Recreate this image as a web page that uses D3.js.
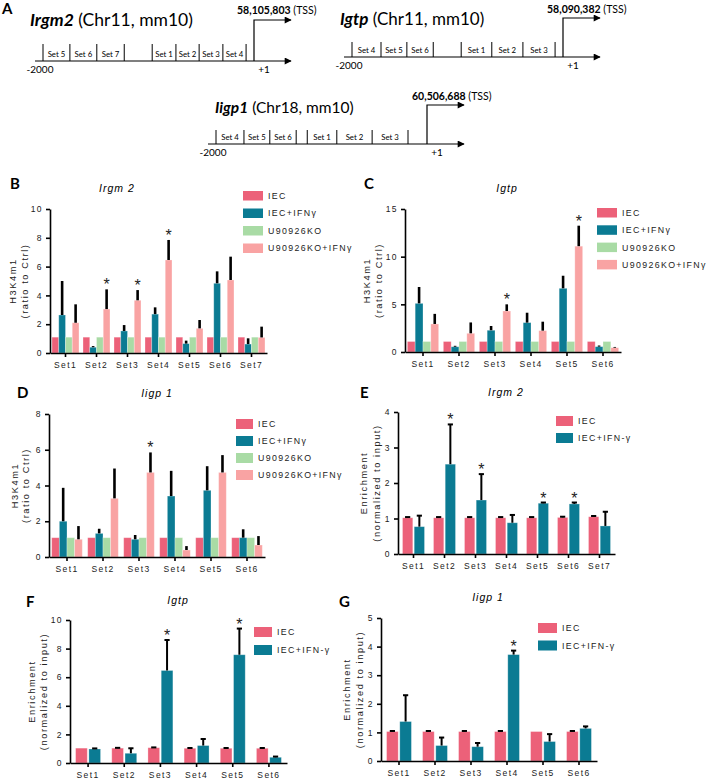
<!DOCTYPE html>
<html><head><meta charset="utf-8">
<script src="https://cdn.jsdelivr.net/npm/d3@7"></script>
<style>body{margin:0;background:#fff} svg{display:block}</style>
</head><body><svg id="c" width="708" height="779"></svg>
<script>
// ---------------- DATA ----------------
// Panel A: promoter maps (positions in bp relative to TSS)
const irgm2Ticks  = [-2000,-1745,-1490,-1230,-965,-740,-520,-295,-75];
const irgm2Labels = ["Set 5","Set 6","Set 7","","Set 1","Set 2","Set 3","Set 4"];
const igtpTicks   = [-2000,-1725,-1480,-1230,-965,-675,-380,-75];
const igtpLabels  = ["Set 4","Set 5","Set 6","","Set 1","Set 2","Set 3"];
const iigp1Ticks  = [-2000,-1735,-1490,-1240,-1135,-855,-520,-180];
const iigp1Labels = ["Set 4","Set 5","Set 6","","Set 1","Set 2","Set 3"];

const sets7 = ["Set1","Set2","Set3","Set4","Set5","Set6","Set7"];
const sets6 = ["Set1","Set2","Set3","Set4","Set5","Set6"];
const seriesH3  = ["IEC","IEC+IFNγ","U90926KO","U90926KO+IFNγ"];
const seriesEnr = ["IEC","IEC+IFN-γ"];

// Panel B: Irgm2 H3K4m1
const bIEC      = [1.1,1.1,1.1,1.1,1.1,1.1,1.1];
const bIFN      = [2.64,0.40,1.53,2.70,0.65,4.84,0.62];
const bIFNsd    = [2.36,0.08,0.41,0.47,0.21,0.83,0.40];
const bKO       = [1.1,1.1,1.1,1.1,1.1,1.1,1.1];
const bKOIFN    = [2.10,3.05,3.66,6.46,1.71,5.07,1.08];
const bKOIFNsd  = [1.28,1.37,0.71,1.39,0.58,1.62,0.75];
const bStars    = ["Set2","Set3","Set4"];
const bTicks    = [0,2,4,6,8,10];

// Panel C: Igtp H3K4m1
const cIEC      = [1.1,1.1,1.1,1.1,1.1,1.1];
const cIFN      = [5.10,0.55,2.28,3.08,6.68,0.56];
const cIFNsd    = [1.72,0.10,0.45,1.04,1.32,0.12];
const cKO       = [1.1,1.1,1.1,1.1,1.1,1.1];
const cKOIFN    = [2.94,1.96,4.30,2.24,11.1,0.45];
const cKOIFNsd  = [1.06,1.14,0.70,0.94,2.15,0.08];
const cStars    = ["Set3","Set5"];
const cTicks    = [0,5,10,15];

// Panel D: Iigp1 H3K4m1
const dIEC      = [1.08,1.08,1.08,1.08,1.08,1.08];
const dIFN      = [2.00,1.32,0.99,3.41,3.73,1.08];
const dIFNsd    = [1.87,0.26,0.24,1.41,1.35,0.47];
const dKO       = [1.08,1.08,1.08,1.08,1.08,1.08];
const dKOIFN    = [0.99,3.28,4.73,0.39,4.73,0.67];
const dKOIFNsd  = [0.74,1.67,1.12,0.22,0.97,0.50];
const dStars    = ["Set3"];
const dTicks    = [0,2,4,6,8];

// Panel E: Irgm2 enrichment
const eIEC      = [1.02,1.02,1.02,1.02,1.02,1.03,1.05];
const eIECsd    = [0.02,0.02,0.02,0.02,0.02,0.02,0.02];
const eIFN      = [0.77,2.53,1.52,0.88,1.43,1.41,0.79];
const eIFNsd    = [0.31,1.12,0.73,0.22,0.02,0.04,0.40];
const eStars    = ["Set2","Set3","Set5","Set6"];
const eTicks    = [0,1,2,3,4];

// Panel F: Igtp enrichment
const fIEC      = [1.04,1.04,1.07,1.03,1.03,1.03];
const fIECsd    = [0.0,0.02,0.02,0.02,0.02,0.02];
const fIFN      = [0.98,0.68,6.47,1.22,7.57,0.40];
const fIFNsd    = [0.04,0.35,2.13,0.46,1.83,0.05];
const fStars    = ["Set3","Set5"];
const fTicks    = [0,2,4,6,8,10];

// Panel G: Iigp1 enrichment
const gIEC      = [1.03,1.03,1.03,1.03,1.03,1.03];
const gIECsd    = [0.02,0.02,0.02,0.02,0.0,0.02];
const gIFN      = [1.38,0.54,0.50,3.72,0.68,1.14];
const gIFNsd    = [0.92,0.28,0.13,0.14,0.26,0.07];
const gStars    = ["Set4"];
const gTicks    = [0,1,2,3,4,5];

// ---------------- STYLE ----------------
const COL = {"IEC":"#ec6179","IEC+IFNγ":"#0b7b93","U90926KO":"#a9dba5","U90926KO+IFNγ":"#f9a3a3","IEC+IFN-γ":"#0b7b93"};
const FONT = "'Liberation Sans', Arial, Helvetica, sans-serif";
const DFONT = "Lato, 'Open Sans', sans-serif";
const svg = d3.select("#c");
svg.append("rect").attr("width",708).attr("height",779).attr("fill","#fff");

svg.append("defs").append("marker")
  .attr("id","arr").attr("viewBox","0 0 10 10").attr("refX",9).attr("refY",5)
  .attr("markerWidth",8).attr("markerHeight",7).attr("markerUnits","userSpaceOnUse")
  .attr("orient","auto")
  .append("path").attr("d","M0,0 L10,5 L0,10 z").attr("fill","#000");

// ---------------- PANEL A ----------------
function gene(c){
  const g = svg.append("g");
  const s = d3.scaleLinear().domain([-2000,0]).range([c.x0, c.x1]);
  g.append("line").attr("x1",s(-2000)-8).attr("x2",s(0)+37).attr("y1",c.y).attr("y2",c.y)
    .attr("stroke","#000").attr("stroke-width",1.2).attr("marker-end","url(#arr)");
  g.selectAll(".tk").data(c.ticks).join("line")
    .attr("x1",d=>s(d)).attr("x2",d=>s(d)).attr("y1",c.y-c.th).attr("y2",c.y)
    .attr("stroke","#000").attr("stroke-width",1);
  g.selectAll(".lb").data(c.labels).join("text")
    .attr("x",(d,i)=>(s(c.ticks[i])+s(c.ticks[i+1]))/2).attr("y",c.y-4)
    .attr("text-anchor","middle").attr("font-family",DFONT).attr("font-size",7.8).text(d=>d);
  g.append("path").attr("d",`M${s(0)},${c.y} V${c.tssTop} H${s(0)+37}`)
    .attr("fill","none").attr("stroke","#000").attr("stroke-width",1.2).attr("marker-end","url(#arr)");
  g.append("text").attr("x",s(-2000)-3).attr("y",c.y+12).attr("text-anchor","middle")
    .attr("font-family",DFONT).attr("font-size",10).text("-2000");
  g.append("text").attr("x",s(0)+10).attr("y",c.y+12).attr("text-anchor","middle")
    .attr("font-family",DFONT).attr("font-size",10).text("+1");
  const t = g.append("text").attr("x",c.tx).attr("y",c.ty).attr("font-family",DFONT).attr("font-size",c.fs);
  t.append("tspan").attr("font-weight","bold").attr("font-style","italic").text(c.name);
  t.append("tspan").text(" "+c.chr);
  const p = g.append("text").attr("x",c.px).attr("y",c.py).attr("font-family",DFONT).attr("font-size",10.5);
  p.append("tspan").attr("font-weight","bold").text(c.pos);
  p.append("tspan").text(" (TSS)");
}
gene({name:"Irgm2",chr:"(Chr11, mm10)",pos:"58,105,803",ticks:irgm2Ticks,labels:irgm2Labels,
  x0:43,x1:254,y:61,th:17,tssTop:20,tx:30,ty:26,px:237,py:14,fs:17.5});
gene({name:"Igtp",chr:"(Chr11, mm10)",pos:"58,090,382",ticks:igtpTicks,labels:igtpLabels,
  x0:352,x1:563,y:57,th:15,tssTop:18,tx:340,ty:25,px:547,py:13,fs:17});
gene({name:"Iigp1",chr:"(Chr18, mm10)",pos:"60,506,688",ticks:iigp1Ticks,labels:iigp1Labels,
  x0:216,x1:427,y:144,th:14,tssTop:105,tx:215,ty:113,px:412,py:100,fs:15.5});

function letter(t,x,y){
  svg.append("text").attr("x",x).attr("y",y).attr("font-family",DFONT).attr("font-weight","bold")
    .attr("font-size",15).text(t);
}
letter("A",2,14);

// ---------------- BAR PANELS ----------------
function panel(c){
  const g = svg.append("g");
  const x0 = d3.scaleBand().domain(c.cats).range([c.left,c.right]).paddingInner(c.pad).paddingOuter(c.pad/2);
  const names = c.series.map(s=>s.name);
  const x1 = d3.scaleBand().domain(names).range([0,x0.bandwidth()]).paddingInner(c.ipad);
  const y = d3.scaleLinear().domain([0,c.ymax]).range([c.bottom,c.top]);
  const rows = [];
  c.series.forEach(s=>s.values.forEach((v,i)=>rows.push({s:s.name,cat:c.cats[i],v,sd:s.sd?s.sd[i]:0,star:s.stars?s.stars.includes(c.cats[i]):false})));
  g.selectAll(".bar").data(rows).join("rect")
    .attr("x",d=>x0(d.cat)+x1(d.s)).attr("width",x1.bandwidth())
    .attr("y",d=>y(d.v)).attr("height",d=>y(0)-y(d.v))
    .attr("fill",d=>COL[d.s]).attr("stroke","#fff").attr("stroke-opacity",0.35).attr("stroke-width",0.8);
  const er = rows.filter(d=>d.sd>0);
  const cx = d=>x0(d.cat)+x1(d.s)+x1.bandwidth()/2;
  g.selectAll(".err").data(er).join("line")
    .attr("x1",cx).attr("x2",cx).attr("y1",d=>y(d.v)).attr("y2",d=>y(d.v+d.sd))
    .attr("stroke","#000").attr("stroke-width",c.caps?2:2.6);
  if(c.caps){
    g.selectAll(".cap").data(er).join("line")
      .attr("x1",d=>cx(d)-2.6).attr("x2",d=>cx(d)+2.6).attr("y1",d=>y(d.v+d.sd)).attr("y2",d=>y(d.v+d.sd))
      .attr("stroke","#000").attr("stroke-width",2);
  }
  g.selectAll(".star").data(rows.filter(d=>d.star)).join("text")
    .attr("x",cx).attr("y",d=>y(d.v+d.sd)+1).attr("text-anchor","middle")
    .attr("font-family",FONT).attr("font-size",16).attr("fill","#222").text("*");
  // axes
  const ya = g.append("g").attr("transform",`translate(${c.left},0)`)
    .call(d3.axisLeft(y).tickValues(c.yticks).tickSize(4).tickSizeOuter(0).tickPadding(3).tickFormat(d3.format("d")));
  const xa = g.append("g").attr("transform",`translate(0,${c.bottom})`)
    .call(d3.axisBottom(x0).tickSize(4).tickSizeOuter(0).tickPadding(5));
  [ya,xa].forEach(a=>{
    a.select(".domain").attr("stroke-width",1.6);
    a.selectAll(".tick line").attr("stroke-width",1.6);
    a.selectAll("text").attr("font-family",FONT).attr("font-size",8.5).attr("fill","#222")
      .style("letter-spacing","1.4px");
  });
  // title
  g.append("text").attr("x",c.title[1]).attr("y",c.title[2]).attr("text-anchor","middle")
    .attr("font-family",FONT).attr("font-style","italic").attr("font-size",10.5)
    .style("letter-spacing","1px").text(c.title[0]);
  // y label
  const cy = (c.top+c.bottom)/2;
  c.ylab.forEach((l,i)=>{
    g.append("text").attr("transform",`translate(${c.ylabX[i]},${cy}) rotate(-90)`)
      .attr("text-anchor","middle").attr("font-family",FONT).attr("font-size",9.2).attr("fill","#222")
      .style("letter-spacing","1.6px").text(l);
  });
  // legend
  const lg = g.append("g");
  c.series.forEach((s,i)=>{
    lg.append("rect").attr("x",c.leg.x).attr("y",c.leg.y+i*c.leg.dy).attr("width",c.leg.w).attr("height",c.leg.h)
      .attr("fill",COL[s.name]);
    lg.append("text").attr("x",c.leg.x+c.leg.w+5).attr("y",c.leg.y+i*c.leg.dy+c.leg.h/2+3.2)
      .attr("font-family",FONT).attr("font-size",8.8).attr("fill","#222")
      .style("letter-spacing","1.35px").text(s.name);
  });
  letter(c.letter[0],c.letter[1],c.letter[2]);
}

const h3lab = ["H3K4m1","(ratio to Ctrl)"];
const enlab = ["Enrichment","(normalized to input)"];

panel({cats:sets7,left:50,right:267,bottom:353,top:209,ymax:10,yticks:bTicks,pad:0.13,ipad:0,
  series:[{name:seriesH3[0],values:bIEC},{name:seriesH3[1],values:bIFN,sd:bIFNsd},
          {name:seriesH3[2],values:bKO},{name:seriesH3[3],values:bKOIFN,sd:bKOIFNsd,stars:bStars}],
  title:["Irgm 2",117,192],ylab:h3lab,ylabX:[16,28],leg:{x:243,y:191,dy:17.5,w:20,h:9.5},letter:["B",10,189]});

panel({cats:sets6,left:405,right:621,bottom:352,top:209,ymax:15,yticks:cTicks,pad:0.13,ipad:0,
  series:[{name:seriesH3[0],values:cIEC},{name:seriesH3[1],values:cIFN,sd:cIFNsd},
          {name:seriesH3[2],values:cKO},{name:seriesH3[3],values:cKOIFN,sd:cKOIFNsd,stars:cStars}],
  title:["Igtp",507,192],ylab:h3lab,ylabX:[370,382],leg:{x:597,y:208,dy:17.3,w:20,h:9.5},letter:["C",364,189]});

panel({cats:sets6,left:49,right:265,bottom:557,top:414,ymax:8,yticks:dTicks,pad:0.15,ipad:0,
  series:[{name:seriesH3[0],values:dIEC},{name:seriesH3[1],values:dIFN,sd:dIFNsd},
          {name:seriesH3[2],values:dKO},{name:seriesH3[3],values:dKOIFN,sd:dKOIFNsd,stars:dStars}],
  title:["Iigp 1",157,397],ylab:h3lab,ylabX:[18,29],leg:{x:236,y:419,dy:17,w:17,h:10},letter:["D",17,398]});

panel({cats:sets7,left:398,right:615,bottom:554,top:412,ymax:4,yticks:eTicks,pad:0.29,ipad:0.12,caps:true,
  series:[{name:seriesEnr[0],values:eIEC,sd:eIECsd},{name:seriesEnr[1],values:eIFN,sd:eIFNsd,stars:eStars}],
  title:["Irgm 2",506,396],ylab:enlab,ylabX:[367,380],leg:{x:556,y:416,dy:17,w:17,h:10},letter:["E",360,398]});

panel({cats:sets6,left:70,right:287,bottom:763,top:620,ymax:10,yticks:fTicks,pad:0.31,ipad:0.12,caps:true,
  series:[{name:seriesEnr[0],values:fIEC,sd:fIECsd},{name:seriesEnr[1],values:fIFN,sd:fIFNsd,stars:fStars}],
  title:["Igtp",178,604],ylab:enlab,ylabX:[35,47],leg:{x:254,y:627,dy:18,w:18,h:10},letter:["F",26,607]});

panel({cats:sets6,left:381,right:597,bottom:761,top:618,ymax:5,yticks:gTicks,pad:0.31,ipad:0.12,caps:true,
  series:[{name:seriesEnr[0],values:gIEC,sd:gIECsd},{name:seriesEnr[1],values:gIFN,sd:gIFNsd,stars:gStars}],
  title:["Iigp 1",488,601],ylab:enlab,ylabX:[350,363],leg:{x:538,y:623,dy:17.5,w:19,h:10},letter:["G",339,607]});
</script></body></html>
